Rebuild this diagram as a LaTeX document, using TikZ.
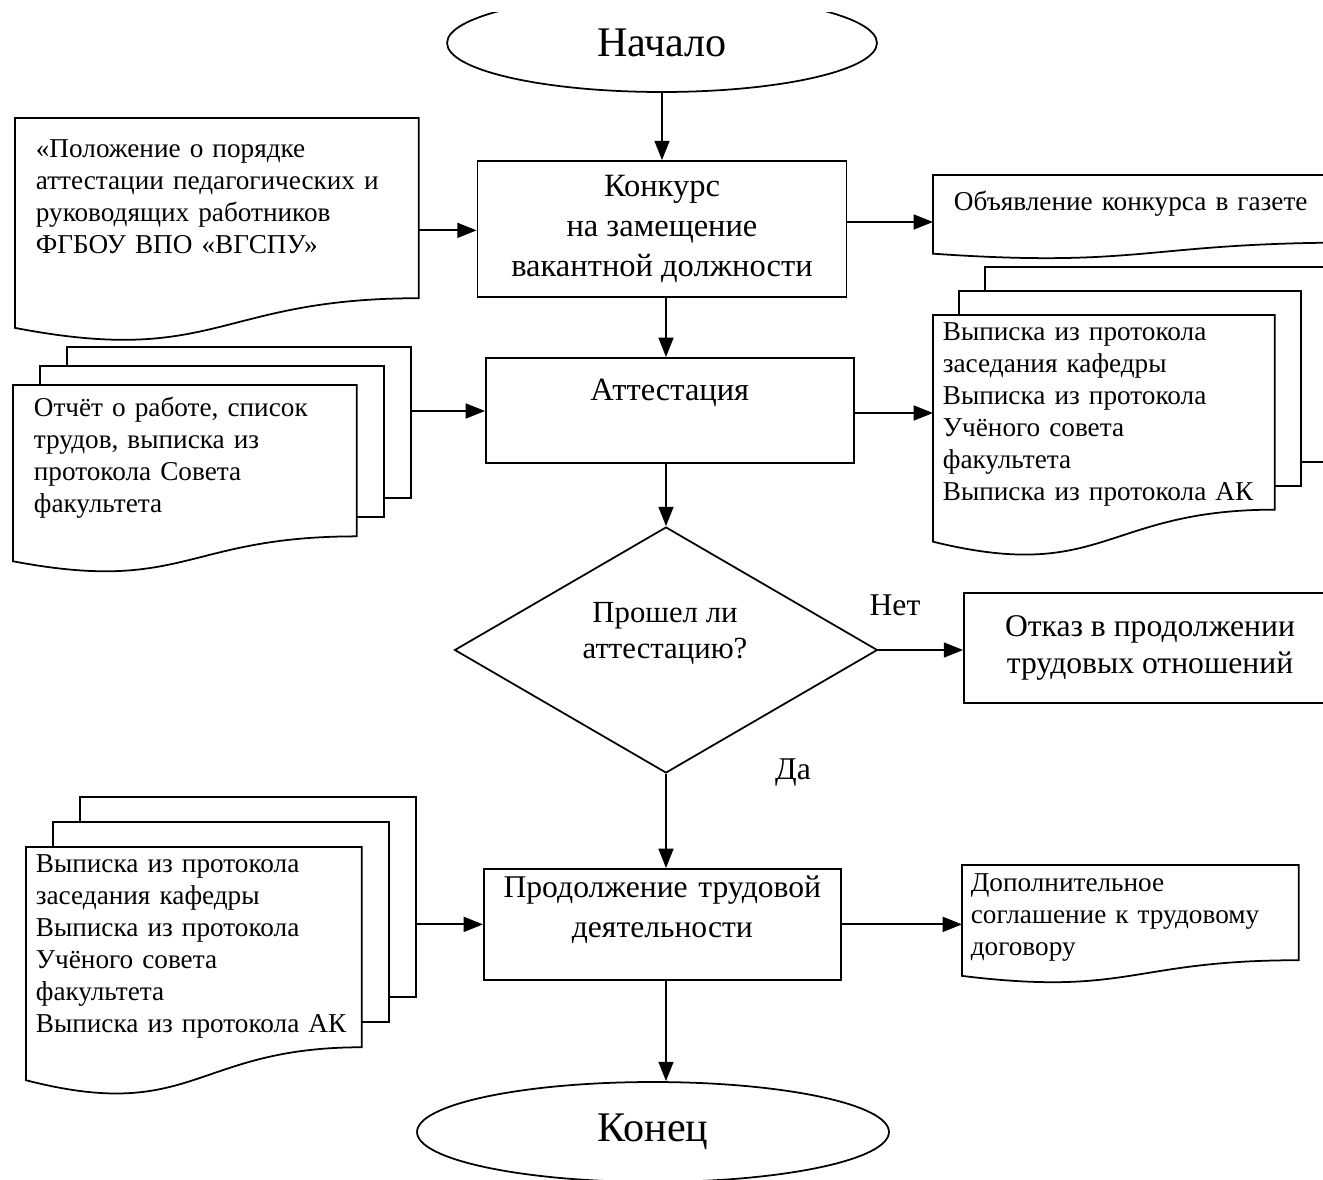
\documentclass[tikz,border=0pt]{standalone}
\usepackage{fontspec}
\setmainfont{Liberation Serif}
\usepackage{tikz}
\usetikzlibrary{shapes.geometric, arrows.meta, calc}

% document outline drawn round a node: wavy lower edge
\newcommand{\docoutline}[1]{%
  \draw (#1.north west) -- (#1.north east) -- ($(#1.north east)!0.802!(#1.south east)$)
    .. controls ($(#1.north)!0.802!(#1.south)$) and ($(#1.north)!1.107!(#1.south)$)
    .. ($(#1.north west)!0.934!(#1.south west)$) -- cycle;}
% two more sheets behind a document
\newcommand{\docstack}[3]{%
  \draw ($(#1.north west)+(#2,0)$) -- ++(0,#3) -| ($(#1.north east)!0.802!(#1.south east)+(#2,#3)$) -- ++(-#2,0);
  \draw ($(#1.north west)+(2*#2,#3)$) -- ++(0,#3) -| ($(#1.north east)!0.802!(#1.south east)+(2*#2,2*#3)$) -- ++(-#2,0);
  \coordinate (#1-back) at ($(#1.north east)+(2*#2,0)$);}

\begin{document}
\begin{tikzpicture}[
    x=0.02cm, y=0.02cm,
    line width=1pt,
    terminal/.style={ellipse, draw, inner sep=0pt, font=\fontsize{24}{28}\selectfont},
    proc/.style={rectangle, draw, inner sep=0pt, align=center, font=\fontsize{18.5}{22.5}\selectfont},
    decision/.style={diamond, draw, inner sep=0pt, minimum width=8.46cm, minimum height=4.92cm},
    doc/.style={rectangle, anchor=north west, inner ysep=0pt, align=left, font=\fontsize{15.5}{18.2}\selectfont},
    lbl/.style={font=\fontsize{18}{21}\selectfont},
    arrow/.style={-{Triangle[length=11pt, width=8.5pt]}}
]
\useasboundingbox (0,0) rectangle (1323,-1180);
\clip (0,-12) rectangle (1323,-1180);

% main flow
\node[terminal, minimum width=8.6cm, minimum height=1.96cm] (start) at (662,-43) {Начало};
\node[proc, minimum width=7.38cm, minimum height=2.72cm] (konkurs) at (662,-229) {Конкурс\\на замещение\\вакантной должности};
\node[proc, anchor=north west, text width=7.36cm, text height=0.86cm, text depth=1.24cm] (att) at (485,-357) {Аттестация};
\node[decision] (check) at (666,-650) {};
\node[lbl, align=center, font=\fontsize{17.5}{20.5}\selectfont] (checktext) at (665,-633) {Прошел ли\\аттестацию?};
\node[proc, minimum width=7.44cm, minimum height=2.2cm, font=\fontsize{18}{21}\selectfont] (otkaz) at (1150,-648) {Отказ в продолжении\\трудовых отношений};
\node[proc, anchor=north west, text width=7.14cm, text height=0.58cm, text depth=1.64cm, font=\fontsize{18}{22.8}\selectfont] (prod) at (483,-868) {Продолжение трудовой\\деятельности};
\node[terminal, minimum width=9.44cm, minimum height=2cm] (stop) at (653,-1132) {Конец};

% documents
\node[doc, text width=7.24cm, inner xsep=0.4cm, text height=0.78cm, text depth=3.68cm] (polozh) at (15,-118) {«Положение о порядке\\аттестации педагогических и\\руководящих работников\\ФГБОУ ВПО «ВГСПУ»};
\node[doc, text width=7.6cm, inner xsep=0.4cm, text height=0.7cm, text depth=0.95cm] (gazeta) at (933,-175) {Объявление конкурса в газете};
\node[doc, text width=6.44cm, inner xsep=0.18cm, text height=0.5cm, text depth=4.32cm] (vypR) at (933,-315) {Выписка из протокола\\заседания кафедры\\Выписка из протокола\\Учёного совета\\факультета\\Выписка из протокола АК};
\node[doc, text width=6.04cm, inner xsep=0.4cm, text height=0.62cm, text depth=3.12cm] (otchet) at (13,-385) {Отчёт о работе, список\\трудов, выписка из\\протокола Совета\\факультета};
\node[doc, text width=6.32cm, inner xsep=0.18cm, text height=0.5cm, text depth=4.46cm] (vypL) at (26,-847) {Выписка из протокола\\заседания кафедры\\Выписка из протокола\\Учёного совета\\факультета\\Выписка из протокола АК};
\node[doc, text width=6.38cm, inner xsep=0.16cm, text height=0.52cm, text depth=1.82cm] (dopsogl) at (962,-865) {Дополнительное\\соглашение к трудовому\\договору};

\docoutline{polozh}
\docoutline{gazeta}
\docoutline{vypR}
\docstack{vypR}{26}{24}
\docoutline{otchet}
\docstack{otchet}{27}{19}
\docoutline{vypL}
\docstack{vypL}{27}{25}
\docoutline{dopsogl}

% labels
\node[lbl] (no) at (895,-605) {Нет};
\node[lbl] (yes) at (793,-773) {Да};

% connectors
\draw[arrow] (start) -- (konkurs);
\draw[arrow] (konkurs.south -| check) -- (check |- att.north);
\draw[arrow] (att.south -| check) -- (check.north);
\draw[arrow] (check.east) -- (check.east -| otkaz.west);
\draw[arrow] (check.south) -- (check |- prod.north);
\draw[arrow] (prod.south -| check) -- (check |- stop.north);
\draw[arrow] (polozh.east) -- (polozh.east -| konkurs.west);
\draw[arrow] (konkurs.east |- 0,-222) -- (gazeta.west |- 0,-222);
\draw[arrow] (att.east |- 0,-413) -- (vypR.west |- 0,-413);
\draw[arrow] (otchet-back |- 0,-411) -- (att.west |- 0,-411);
\draw[arrow] (vypL-back |- prod.west) -- (prod.west);
\draw[arrow] (prod.east) -- (prod.east -| dopsogl.west);
\end{tikzpicture}
\end{document}
